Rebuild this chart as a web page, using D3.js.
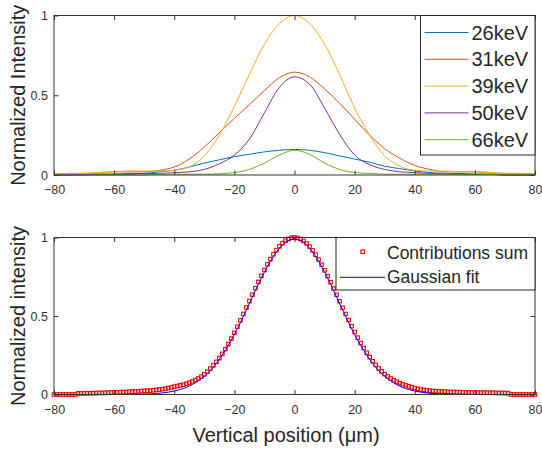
<!DOCTYPE html>
<html>
<head>
<meta charset="utf-8">
<script src="https://cdn.jsdelivr.net/npm/d3@7"></script>
<style>
body { margin: 0; background: #fff; }
svg { display: block; font-family: Arial, "Liberation Sans", Helvetica, sans-serif; }
</style>
</head>
<body>
<div id="chart"></div>
<script>
// ---- data ----
const energyLabels = ['26keV', '31keV', '39keV', '50keV', '66keV'];
const energyColors = ['#0072bd', '#d95319', '#edb120', '#7e2f8e', '#77ac30'];

// top panel: profiles sampled every 5 um from -80 to 80
const profileX = d3.range(-80, 81, 5);
const intensity26 = [0, 0, 0.005, 0.005, 0.005, 0.01, 0.01, 0.02, 0.03, 0.05, 0.075, 0.095, 0.115, 0.13, 0.145, 0.155, 0.16,
    0.155, 0.14, 0.12, 0.1, 0.08, 0.055, 0.04, 0.025, 0.015, 0.01, 0.01, 0.005, 0.005, 0, 0, 0];
const intensity31 = [0.005, 0.01, 0.01, 0.015, 0.02, 0.02, 0.02, 0.03, 0.05, 0.10, 0.175, 0.265, 0.355, 0.44, 0.53, 0.61, 0.645,
    0.615, 0.54, 0.45, 0.35, 0.25, 0.165, 0.105, 0.06, 0.035, 0.02, 0.02, 0.02, 0.015, 0.01, 0.01, 0.005];
const intensity39 = [0.005, 0.01, 0.01, 0.015, 0.02, 0.025, 0.025, 0.025, 0.03, 0.05, 0.12, 0.25, 0.43, 0.63, 0.82, 0.95, 1.0,
    0.95, 0.82, 0.63, 0.42, 0.25, 0.12, 0.055, 0.03, 0.025, 0.025, 0.02, 0.02, 0.015, 0.01, 0.01, 0.005];
const intensity50 = [0, 0, 0, 0.005, 0.005, 0.005, 0.01, 0.01, 0.015, 0.02, 0.035, 0.07, 0.125, 0.225, 0.39, 0.55, 0.615,
    0.57, 0.42, 0.255, 0.125, 0.065, 0.035, 0.02, 0.015, 0.01, 0.01, 0.005, 0.005, 0.005, 0, 0, 0];
const intensity66 = [0, 0, 0, 0, 0, 0, 0, 0.005, 0.005, 0.005, 0.005, 0.008, 0.015, 0.035, 0.075, 0.125, 0.155,
    0.13, 0.075, 0.035, 0.015, 0.01, 0.005, 0.005, 0.005, 0.005, 0.005, 0.003, 0.003, 0.003, 0.003, 0.003, 0.003];
const energySeries = [intensity26, intensity31, intensity39, intensity50, intensity66];

// bottom panel: summed contributions every 1 um, gaussian fit every 2 um
const sumX = d3.range(-80, 81, 1);
const contributionsSum = [
    0, 0, 0, 0, 0, 0, 0, 0,
    0.007, 0.007, 0.008, 0.008, 0.008, 0.009, 0.009, 0.010, 0.010, 0.011, 0.012, 0.013, 0.014, 0.014, 0.015, 0.015,
    0.016, 0.017, 0.018, 0.019, 0.020, 0.022, 0.023, 0.024, 0.025, 0.027, 0.029, 0.031, 0.034, 0.037, 0.041, 0.045,
    0.050, 0.054, 0.058, 0.062, 0.068, 0.075, 0.083, 0.092, 0.102, 0.114, 0.128, 0.145, 0.165, 0.186, 0.208, 0.232,
    0.259, 0.289, 0.321, 0.356, 0.393, 0.432, 0.472, 0.513, 0.554, 0.595, 0.636, 0.677, 0.717, 0.756, 0.793, 0.829,
    0.862, 0.893, 0.920, 0.944, 0.964, 0.980, 0.991, 0.998,
    1.000,
    0.997, 0.990, 0.978, 0.962, 0.942, 0.918, 0.890, 0.860, 0.827, 0.791, 0.754, 0.715, 0.675, 0.635, 0.594, 0.553,
    0.513, 0.474, 0.435, 0.398, 0.362, 0.328, 0.296, 0.266, 0.238, 0.212, 0.188, 0.166, 0.147, 0.130, 0.115, 0.102,
    0.091, 0.082, 0.073, 0.065, 0.058, 0.052, 0.046, 0.041, 0.036, 0.032, 0.029, 0.026, 0.024, 0.022, 0.021, 0.020,
    0.019, 0.018, 0.017, 0.016, 0.016, 0.015, 0.015, 0.014, 0.014, 0.013, 0.013, 0.013, 0.012, 0.012, 0.012, 0.011,
    0.011, 0.011, 0.010, 0.010, 0.010, 0.009, 0.009,
    0, 0, 0, 0, 0, 0, 0, 0, 0
];
const fitX = d3.range(-80, 81, 2);
const gaussianFit = [
    0, 0, 0, 0, 0, 0, 0, 0, 0, 0, 0, 0, 0,
    0.001, 0.002, 0.003, 0.004, 0.006, 0.010, 0.015, 0.022, 0.032, 0.045, 0.063, 0.087, 0.116, 0.153,
    0.198, 0.252, 0.313, 0.382, 0.458, 0.539, 0.621, 0.703, 0.780, 0.850, 0.909, 0.953, 0.981,
    0.990,
    0.981, 0.953, 0.909, 0.850, 0.780, 0.703, 0.621, 0.539, 0.458, 0.382, 0.313, 0.252, 0.198,
    0.153, 0.116, 0.087, 0.063, 0.045, 0.032, 0.022, 0.015, 0.010, 0.006, 0.004, 0.003, 0.002, 0.001,
    0, 0, 0, 0, 0, 0, 0, 0, 0, 0, 0, 0, 0
];

const xTicks = [-80, -60, -40, -20, 0, 20, 40, 60, 80];
const yTicks = [0, 0.5, 1];

// ---- layout ----
const width = 542;
const height = 450;
const plotLeft = 54;
const plotRight = 535;
const tickLen = 4.5;
const axisColor = '#333';

const svg = d3.select('#chart').append('svg')
    .attr('width', width)
    .attr('height', height);

const x = d3.scaleLinear().domain([-80, 80]).range([plotLeft, plotRight]);

function drawFrame (y, top, bottom, yLabel) {
    const g = svg.append('g');
    const inner = (axis) => axis.tickSizeInner(-tickLen).tickSizeOuter(0);

    g.append('g')
        .attr('transform', `translate(0,${bottom})`)
        .call(inner(d3.axisBottom(x)).tickValues(xTicks).tickPadding(10.5));
    g.append('g')
        .attr('transform', `translate(0,${top})`)
        .call(inner(d3.axisTop(x)).tickValues(xTicks).tickFormat(''));
    g.append('g')
        .attr('transform', `translate(${plotLeft},0)`)
        .call(inner(d3.axisLeft(y)).tickValues(yTicks).tickFormat(d3.format('')).tickPadding(6));
    g.append('g')
        .attr('transform', `translate(${plotRight},0)`)
        .call(inner(d3.axisRight(y)).tickValues(yTicks).tickFormat(''));

    g.selectAll('.domain').remove();
    g.selectAll('.tick line').attr('stroke', axisColor);
    g.selectAll('.tick text')
        .attr('fill', '#333')
        .style('font-size', '12.5px');

    g.append('rect')
        .attr('x', plotLeft)
        .attr('y', top)
        .attr('width', plotRight - plotLeft)
        .attr('height', bottom - top)
        .attr('fill', 'none')
        .attr('stroke', axisColor);

    g.append('text')
        .attr('transform', `translate(25,${(top + bottom) / 2}) rotate(-90)`)
        .attr('text-anchor', 'middle')
        .attr('fill', '#262626')
        .style('font-size', '20px')
        .text(yLabel);
    return g;
}

// ---- top panel ----
const top1 = 15.5;
const bottom1 = 175;
const y1 = d3.scaleLinear().domain([0, 1]).range([bottom1, top1]);

const line1 = d3.line()
    .x((d, i) => x(profileX[i]))
    .y((d) => y1(d))
    .curve(d3.curveMonotoneX);

svg.append('g')
    .selectAll('path')
    .data(energySeries)
    .enter()
    .append('path')
    .attr('d', line1)
    .attr('fill', 'none')
    .attr('stroke', (d, i) => energyColors[i])
    .attr('stroke-width', 1);

drawFrame(y1, top1, bottom1, 'Normalized Intensity');

// legend, top right corner
const legend1 = svg.append('g').attr('transform', `translate(420.5,${top1})`);
legend1.append('rect')
    .attr('width', plotRight - 420.5)
    .attr('height', 155 - top1)
    .attr('fill', '#fff')
    .attr('stroke', '#262626');
const legendRows = legend1.selectAll('.legend-row')
    .data(energyLabels)
    .enter()
    .append('g')
    .attr('class', 'legend-row')
    .attr('transform', (d, i) => `translate(0,${17 + i * 26.8})`);
legendRows.append('line')
    .attr('x1', 4)
    .attr('x2', 48)
    .attr('stroke', (d, i) => energyColors[i])
    .attr('stroke-width', 1);
legendRows.append('text')
    .attr('x', 51)
    .attr('y', 7)
    .attr('fill', '#262626')
    .style('font-size', '20px')
    .text((d) => d);

// ---- bottom panel ----
const top2 = 237.5;
const bottom2 = 394.5;
const y2 = d3.scaleLinear().domain([0, 1]).range([bottom2, top2]);
const markerSize = 3.5;

svg.append('g')
    .selectAll('rect')
    .data(contributionsSum)
    .enter()
    .append('rect')
    .attr('x', (d, i) => x(sumX[i]) - markerSize / 2)
    .attr('y', (d) => y2(d) - markerSize / 2)
    .attr('width', markerSize)
    .attr('height', markerSize)
    .attr('fill', 'none')
    .attr('stroke', '#ff0000')
    .attr('stroke-width', 1.1);

svg.append('path')
    .datum(gaussianFit)
    .attr('d', d3.line()
        .x((d, i) => x(fitX[i]))
        .y((d) => y2(d))
        .curve(d3.curveMonotoneX))
    .attr('fill', 'none')
    .attr('stroke', '#0000ff')
    .attr('stroke-width', 1);

drawFrame(y2, top2, bottom2, 'Normalized intensity');

const legend2 = svg.append('g').attr('transform', `translate(336,${top2})`);
legend2.append('rect')
    .attr('width', plotRight - 336)
    .attr('height', 290 - top2)
    .attr('fill', '#fff')
    .attr('stroke', '#262626');
legend2.append('rect')
    .attr('x', 26.7 - markerSize / 2)
    .attr('y', 14.2 - markerSize / 2)
    .attr('width', markerSize)
    .attr('height', markerSize)
    .attr('fill', 'none')
    .attr('stroke', '#ff0000')
    .attr('stroke-width', 1.1);
legend2.append('text')
    .attr('x', 51)
    .attr('y', 21.8)
    .attr('fill', '#262626')
    .style('font-size', '17.5px')
    .text('Contributions sum');
legend2.append('line')
    .attr('x1', 4)
    .attr('x2', 49)
    .attr('y1', 39.8)
    .attr('y2', 39.8)
    .attr('stroke', '#0000ff')
    .attr('stroke-width', 1);
legend2.append('text')
    .attr('x', 51)
    .attr('y', 45.2)
    .attr('fill', '#262626')
    .style('font-size', '17.5px')
    .text('Gaussian fit');

// x axis label
svg.append('text')
    .attr('x', 286)
    .attr('y', 441.5)
    .attr('text-anchor', 'middle')
    .attr('fill', '#262626')
    .style('font-size', '20px')
    .text('Vertical position (μm)');
</script>
</body>
</html>
